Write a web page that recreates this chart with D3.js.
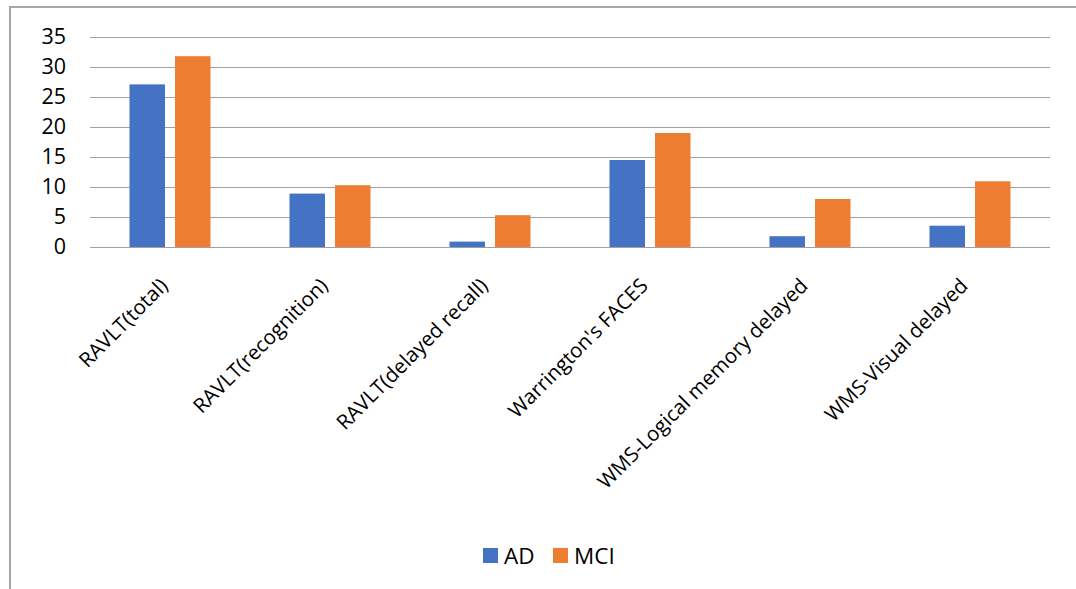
<!DOCTYPE html>
<html>
<head>
<meta charset="utf-8">
<script src="https://cdn.jsdelivr.net/npm/d3@7"></script>
<style>
  html, body { margin: 0; padding: 0; background: #fff; }
  svg { display: block; }
  text { font-family: "Open Sans", "Noto Sans", sans-serif; fill: #000; }
</style>
</head>
<body>
<svg id="chart" width="1076" height="589"></svg>
<script>
// Memory test scores by group
const categories = [
  "RAVLT(total)",
  "RAVLT(recognition)",
  "RAVLT(delayed recall)",
  "Warrington's FACES",
  "WMS-Logical memory delayed",
  "WMS-Visual delayed"
];
const seriesNames = ["AD", "MCI"];
const adValues  = [27.1, 8.9, 0.9, 14.5, 1.8, 3.55];
const mciValues = [31.8, 10.3, 5.3, 19.0, 8.0, 10.95];
const yTicks = [0, 5, 10, 15, 20, 25, 30, 35];
const colors = ["#4472C4", "#ED7D31"];

const svg = d3.select("#chart");
const W = 1076, H = 589;
const plot = { left: 90, right: 1050, top: 37, bottom: 247 };

// outer chart frame
svg.append("rect")
  .attr("x", 10).attr("y", 7)
  .attr("width", W + 20).attr("height", H + 20)
  .attr("fill", "#fff")
  .attr("stroke", "#a6a6a6").attr("stroke-width", 2);

const x = d3.scaleBand().domain(categories).range([plot.left, plot.right]).padding(0);
const x1 = d3.scaleBand().domain(seriesNames).range([0, 81]).paddingInner(0.22);
const y = d3.scaleLinear().domain([0, 35]).range([plot.bottom, plot.top]);

// horizontal gridlines + y labels
const yAxis = d3.axisLeft(y).tickValues(yTicks).tickSize(-(plot.right - plot.left)).tickPadding(24);
const gy = svg.append("g").attr("transform", `translate(${plot.left},0)`).call(yAxis);
gy.select(".domain").remove();
gy.selectAll(".tick line").attr("stroke", "#a0a0a0").attr("stroke-width", 1.2)
  .attr("shape-rendering", "crispEdges");
gy.selectAll(".tick text").attr("font-size", 21.5).attr("font-family", "Open Sans").attr("fill", "#000");

const rows = categories.map((c, i) => ({ cat: c, vals: [adValues[i], mciValues[i]] }));

// bars
const groups = svg.append("g").selectAll("g").data(rows).join("g")
  .attr("transform", d => `translate(${x(d.cat) + x.bandwidth() / 2 - 40.5},0)`);
groups.selectAll("rect")
  .data(d => d.vals.map((v, j) => ({ key: seriesNames[j], v, j })))
  .join("rect")
  .attr("x", d => x1(d.key))
  .attr("width", x1.bandwidth())
  .attr("y", d => y(d.v))
  .attr("height", d => y(0) - y(d.v))
  .attr("fill", d => colors[d.j]);

// rotated category labels
const xAxis = d3.axisBottom(x).tickSize(0).tickPadding(0);
const gx = svg.append("g").attr("transform", `translate(0,${plot.bottom})`).call(xAxis);
gx.select(".domain").remove();
gx.selectAll(".tick text")
  .attr("font-size", 20.5)
  .attr("font-family", "Open Sans")
  .attr("text-anchor", "end")
  .attr("dy", "0.35em")
  .attr("transform", "translate(-6,35) rotate(-45)");

// legend
const legend = svg.append("g").attr("transform", "translate(483,548)");
const items = [{ name: "AD", dx: 0 }, { name: "MCI", dx: 70 }];
items.forEach((it, i) => {
  legend.append("rect").attr("x", it.dx).attr("y", 0).attr("width", 15).attr("height", 15)
    .attr("fill", colors[i]);
  legend.append("text").attr("x", it.dx + 21).attr("y", 7.5).attr("dy", "0.36em")
    .attr("font-size", 22.5).text(it.name);
});
</script>
</body>
</html>
